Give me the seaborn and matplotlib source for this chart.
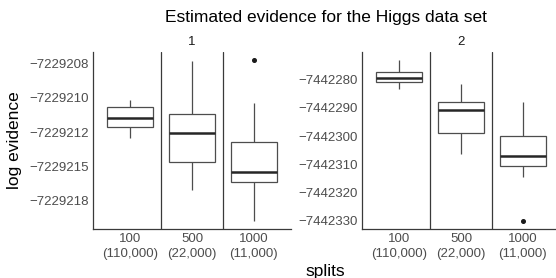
import numpy as np
import pandas as pd
import matplotlib
matplotlib.use("Agg")
import matplotlib.pyplot as plt
import seaborn as sns

sns.set_theme(style="white")
plt.rcParams["font.family"] = ["Liberation Sans", "DejaVu Sans"]

# ---------------- data ----------------
title = "Estimated evidence for the Higgs data set"
facet_names = ["1", "2"]
splits = ["100", "500", "1000"]
split_labels = ["100\n(110,000)", "500\n(22,000)", "1000\n(11,000)"]

# data set 1 (log evidence samples per split)
d1_s100 = [-7229212.96, -7229212.14, -7229211.46, -7229210.68, -7229210.12]
d1_s500 = [-7229216.77, -7229214.73, -7229212.55, -7229211.21, -7229207.31]
d1_s1000 = [-7229219.03, -7229217.00, -7229216.16, -7229215.80, -7229215.39,
            -7229214.50, -7229213.21, -7229210.34, -7229207.21]

# data set 2
d2_s100 = [-7442283.1, -7442280.7, -7442279.3, -7442277.4, -7442272.9]
d2_s500 = [-7442306.2, -7442298.8, -7442290.6, -7442287.8, -7442281.4]
d2_s1000 = [-7442330.2, -7442314.5, -7442310.5, -7442308.5, -7442307.0,
            -7442303.0, -7442299.9, -7442294.0, -7442287.9]

d1_ticks = [-7229217.5, -7229215.0, -7229212.5, -7229210.0, -7229207.5]
d2_ticks = [-7442330, -7442320, -7442310, -7442300, -7442290, -7442280]

rows = []
for facet, series in zip(facet_names, [[d1_s100, d1_s500, d1_s1000],
                                        [d2_s100, d2_s500, d2_s1000]]):
    for sp, vals in zip(splits, series):
        for v in vals:
            rows.append({"dataset": facet, "splits": sp, "value": v})
df = pd.DataFrame(rows)

# ---------------- figure ----------------
W, H = 556, 278
fig = plt.figure(figsize=(W / 100, H / 100), dpi=100)
fig.patch.set_facecolor("white")

def fx(px):
    return px / W

def fy(py):
    return 1 - py / H

panel_top, panel_bot = 51.7, 229.3
panel_w = 198
lefts = [93, 362]
tick_sets = [d1_ticks, d2_ticks]

line_col = "#3a3a3a"
box_col = "#4d4d4d"
for i, facet in enumerate(facet_names):
    ax = fig.add_axes([fx(lefts[i]), fy(panel_bot), fx(panel_w),
                       (panel_bot - panel_top) / H])
    sub = df[df["dataset"] == facet]
    sns.boxplot(data=sub, x="splits", y="value", order=splits, ax=ax,
                color="white", linecolor=box_col, linewidth=0.9, width=0.75,
                showcaps=False,
                medianprops=dict(color="#262626", linewidth=1.8),
                flierprops=dict(marker="o", markersize=2.6,
                                markerfacecolor="#1a1a1a",
                                markeredgecolor="#1a1a1a"))
    vmin, vmax = sub["value"].min(), sub["value"].max()
    r = vmax - vmin
    ax.set_ylim(vmin - 0.05 * r, vmax + 0.05 * r)
    ax.set_xlim(-0.6, 2.6)
    for xv in [0.5, 1.5]:
        ax.axvline(xv, color=line_col, linewidth=0.9, zorder=0)
    ticks = tick_sets[i]
    ax.set_yticks(ticks)
    ax.set_yticklabels(["\u2212" + str(abs(int(round(t)))) for t in ticks])
    ax.set_xticks(range(len(splits)))
    ax.set_xticklabels(split_labels, linespacing=1.3)
    ax.tick_params(axis="both", length=0, labelsize=9.5, colors="#4d4d4d",
                   pad=3)
    ax.set_xlabel("")
    ax.set_ylabel("")
    for s in ["top", "right"]:
        ax.spines[s].set_visible(False)
    for s in ["left", "bottom"]:
        ax.spines[s].set_color(line_col)
        ax.spines[s].set_linewidth(0.9)
    ax.set_facecolor("white")
    fig.text(fx(lefts[i] + panel_w / 2), fy(41.7), facet, ha="center",
             va="center", fontsize=9.5, color="#1a1a1a")

fig.text(fx(325.5), fy(17.5), title, ha="center", va="center", fontsize=12.5,
         color="black")
fig.text(fx(325), fy(271.5), "splits", ha="center", va="center", fontsize=12.5,
         color="black")
fig.text(fx(15), fy(140.5), "log evidence", ha="center", va="center",
         rotation=90, fontsize=12.5, color="black")

fig.savefig("out.png", dpi=100, facecolor="white")
